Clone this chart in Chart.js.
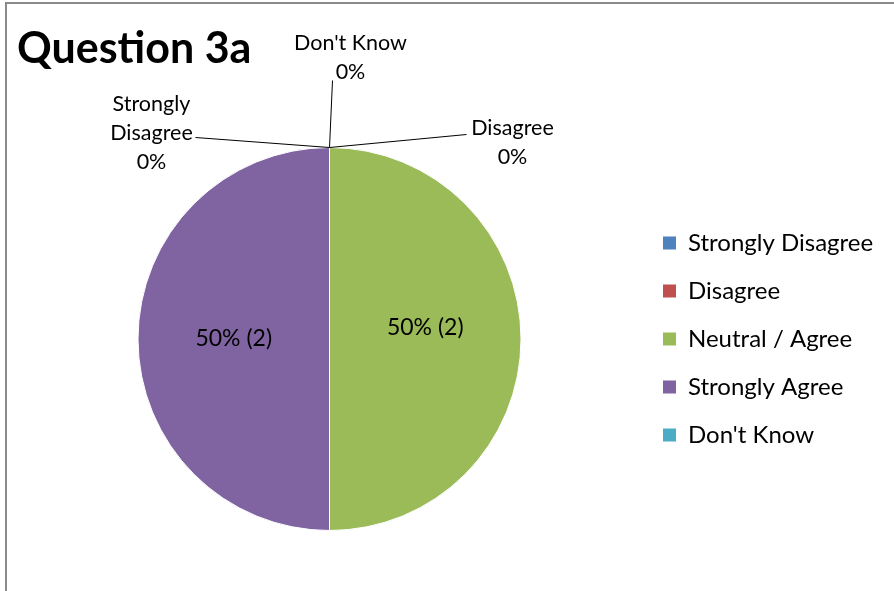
<!DOCTYPE html>
<html lang="en">
<head>
    <meta charset="UTF-8" />
    <title>Question 3a</title>
    <script src="https://cdn.jsdelivr.net/npm/chart.js"></script>
    <style>
        html, body {
            margin: 0;
            padding: 0;
            background: #fff;
            overflow: hidden;
        }
        .frame {
            position: relative;
            width: 894px;
            height: 591px;
        }
        /* grey chart-area border, open to the right and bottom */
        .frame::before {
            content: "";
            position: absolute;
            left: 5px;
            top: 2px;
            right: -10px;
            bottom: -10px;
            border-top: 2px solid #8a8a8a;
            border-left: 2px solid #8a8a8a;
            pointer-events: none;
        }
    </style>
</head>
<body>

<div class="frame">
    <canvas id="pieChart"></canvas>
</div>

<script>
    // survey answers
    const categories = ["Strongly Disagree", "Disagree", "Neutral / Agree", "Strongly Agree", "Don't Know"];
    const responses = [0, 0, 2, 2, 0];

    const sliceColors = ["#4F81BD", "#C0504D", "#9BBB59", "#8064A2", "#4BACC6"];
    const fontFamily = "Lato, 'Open Sans', sans-serif";
    const legendFontSize = 24;
    const legendPad = 24;
    const boxSize = 13;
    const labelFontSize = 21.5;
    const insideFontSize = 23;

    // callout placement for the empty slices, relative to the rim point
    const callouts = {
        "Strongly Disagree": { dx: -178, dy: -43, lx: -134, ly: -10, wrap: true },
        "Disagree":          { dx: 183,  dy: -19, lx: 137,  ly: -13 },
        "Don't Know":        { dx: 21,   dy: -104, lx: 3,   ly: -67 }
    };
    const insideNudge = [0, 0, -11, 0, 0];

    // work out right padding so the legend boxes start at x = 663
    const measure = document.createElement("canvas").getContext("2d");
    measure.font = legendFontSize + "px " + fontFamily;
    const widest = Math.max(...categories.map(c => measure.measureText(c).width));
    const legendWidth = legendPad + boxSize + legendFontSize / 2 + widest + 10;
    const rightPad = Math.max(0, 894 - (663 - legendPad) - legendWidth);

    const titlePlugin = {
        id: "sheetTitle",
        afterDraw(chart) {
            const ctx = chart.ctx;
            ctx.save();
            ctx.fillStyle = "#000";
            ctx.font = "bold 43px " + fontFamily;
            ctx.textAlign = "left";
            ctx.textBaseline = "alphabetic";
            ctx.fillText("Question 3a", 17, 63);
            ctx.restore();
        }
    };

    const sliceLabels = {
        id: "sliceLabels",
        afterDatasetsDraw(chart) {
            const ctx = chart.ctx;
            const meta = chart.getDatasetMeta(0);
            const total = responses.reduce((a, b) => a + b, 0);

            ctx.save();
            ctx.fillStyle = "#000";
            ctx.strokeStyle = "#000";
            ctx.lineWidth = 1;
            ctx.textAlign = "center";
            ctx.textBaseline = "middle";

            meta.data.forEach((arc, i) => {
                const p = arc.getProps(["x", "y", "startAngle", "endAngle", "outerRadius"], true);
                const pct = Math.round(responses[i] / total * 100) + "%";

                if (responses[i] > 0) {
                    const mid = (p.startAngle + p.endAngle) / 2;
                    const r = p.outerRadius * 0.5;
                    ctx.font = insideFontSize + "px " + fontFamily;
                    ctx.fillText(pct + " (" + responses[i] + ")",
                        p.x + Math.cos(mid) * r,
                        p.y + Math.sin(mid) * r + insideNudge[i]);
                    return;
                }

                const c = callouts[categories[i]];
                const ax = p.x + Math.cos(p.startAngle) * p.outerRadius;
                const ay = p.y + Math.sin(p.startAngle) * p.outerRadius;

                ctx.beginPath();
                ctx.moveTo(ax, ay);
                ctx.lineTo(ax + c.lx, ay + c.ly);
                ctx.stroke();

                ctx.font = labelFontSize + "px " + fontFamily;
                const lines = (c.wrap ? categories[i].split(" ") : [categories[i]]).concat([pct]);
                lines.forEach((t, k) => {
                    ctx.fillText(t, ax + c.dx, ay + c.dy + k * 29);
                });
            });
            ctx.restore();
        }
    };

    const ctx = document.getElementById("pieChart").getContext("2d");

    const pieChart = new Chart(ctx, {
        type: "pie",
        data: {
            labels: categories,
            datasets: [
                {
                    data: responses,
                    backgroundColor: sliceColors,
                    borderColor: "#ffffff",
                    borderWidth: 1
                }
            ]
        },
        options: {
            responsive: true,
            maintainAspectRatio: false,
            animation: false,
            events: [],
            layout: {
                padding: { left: 20, top: 147, bottom: 60, right: rightPad }
            },
            plugins: {
                tooltip: { enabled: false },
                legend: {
                    position: "right",
                    labels: {
                        color: "#000",
                        boxWidth: boxSize,
                        boxHeight: boxSize,
                        padding: legendPad,
                        font: { family: fontFamily, size: legendFontSize },
                        generateLabels(chart) {
                            const items = Chart.controllers.pie.overrides.plugins.legend.labels.generateLabels(chart);
                            items.forEach(it => { it.lineWidth = 0; });
                            return items;
                        }
                    }
                }
            }
        },
        plugins: [titlePlugin, sliceLabels]
    });
</script>

</body>
</html>
